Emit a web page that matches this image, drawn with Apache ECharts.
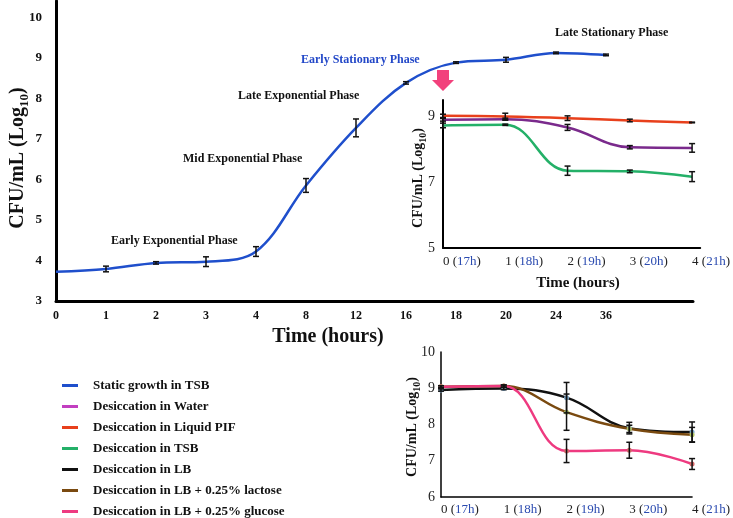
<!DOCTYPE html>
<html>
<head>
<meta charset="utf-8">
<script src="https://cdn.jsdelivr.net/npm/echarts@6/dist/echarts.min.js"></script>
<style>
  html, body { margin: 0; padding: 0; background: #fff; }
  #chart { width: 733px; height: 518px; }
</style>
</head>
<body>
<div id="chart"></div>
<script>
// growth curve (main plot)
const mainHours = ['0', '1', '2', '3', '4', '8', '12', '16', '18', '20', '24', '36'];
const tsbGrowth = [3.72, 3.79, 3.94, 3.97, 4.22, 5.85, 7.27, 8.38, 8.88, 8.95, 9.12, 9.07];
const tsbGrowthErr = [0, 0.07, 0.03, 0.12, 0.12, 0.17, 0.22, 0.03, 0.02, 0.06, 0.02, 0.02];

// desiccation time points
const desHours = [0, 1, 2, 3, 4];
const clockHours = ['17h', '18h', '19h', '20h', '21h'];

// inset 1
const waterVals = [8.88, 8.90, 8.65, 8.05, 8.03];
const waterErr = [0.04, 0.03, 0.09, 0.05, 0.13];
const pifVals = [9.0, 8.98, 8.93, 8.86, 8.80];
const pifErr = [0.05, 0.1, 0.07, 0.04, 0.01];
const tsbVals = [8.71, 8.73, 7.34, 7.32, 7.16];
const tsbErr = [0.07, 0.02, 0.14, 0.04, 0.15];

// inset 2
const lbVals = [8.95, 8.99, 8.74, 7.90, 7.79];
const lbErr = [0.03, 0.03, 0.42, 0.16, 0.28];
const lactoseVals = [9.04, 9.06, 8.34, 7.88, 7.72];
const lactoseErr = [0.03, 0.03, 0.5, 0.1, 0.2];
const glucoseVals = [9.04, 9.06, 7.27, 7.29, 6.91];
const glucoseErr = [0.03, 0.03, 0.32, 0.22, 0.15];

const serif = 'Liberation Serif';
const names = [
  'Static growth in TSB',
  'Desiccation in Water',
  'Desiccation in Liquid PIF',
  'Desiccation in TSB',
  'Desiccation in LB',
  'Desiccation in LB + 0.25% lactose',
  'Desiccation in LB + 0.25% glucose'
];

function pairs(vals) {
  return vals.map((v, i) => [i, v]);
}
function errRows(vals, errs) {
  return vals.map((v, i) => [i, v - errs[i], v + errs[i]]).filter(r => r[2] > r[1]);
}

function errorItem(params, api) {
  const x = api.value(0);
  const lo = api.coord([x, api.value(1)]);
  const hi = api.coord([x, api.value(2)]);
  const w = 3;
  const st = { stroke: '#111', lineWidth: 1.5 };
  return {
    type: 'group',
    children: [
      { type: 'line', shape: { x1: lo[0], y1: lo[1], x2: hi[0], y2: hi[1] }, style: st },
      { type: 'line', shape: { x1: lo[0] - w, y1: lo[1], x2: lo[0] + w, y2: lo[1] }, style: st },
      { type: 'line', shape: { x1: hi[0] - w, y1: hi[1], x2: hi[0] + w, y2: hi[1] }, style: st }
    ]
  };
}

function lineSeries(name, vals, color, axis, extra) {
  return Object.assign({
    name: name,
    type: 'line',
    xAxisIndex: axis,
    yAxisIndex: axis,
    data: pairs(vals),
    smooth: 0.4,
    showSymbol: false,
    symbol: 'none',
    lineStyle: { color: color, width: 2.5 },
    itemStyle: { color: color },
    z: 3
  }, extra || {});
}

function errSeries(rows, axis) {
  return {
    type: 'custom',
    xAxisIndex: axis,
    yAxisIndex: axis,
    renderItem: errorItem,
    encode: { x: 0, y: [1, 2] },
    data: rows,
    z: 5
  };
}

const insetLabel = {
  fontFamily: serif, fontSize: 13, color: '#222', align: 'left',
  formatter: v => (Number.isInteger(v) && v <= 4) ? '{n|' + v + ' (}{h|' + clockHours[v] + '}{n|)}' : '',
  rich: {
    n: { fontFamily: serif, fontSize: 13, color: '#222' },
    h: { fontFamily: serif, fontSize: 13, color: '#2b4bb0' }
  }
};

function yName(text, x, y, size, sub) {
  return {
    type: 'text',
    x: x, y: y,
    rotation: Math.PI / 2,
    style: {
      text: '{a|' + text + '}{b|10}{a|)}',
      align: 'center',
      verticalAlign: 'middle',
      rich: {
        a: { fontFamily: serif, fontWeight: 'bold', fontSize: size, lineHeight: size + 6, fill: '#111' },
        b: { fontFamily: serif, fontWeight: 'bold', fontSize: sub, lineHeight: sub, verticalAlign: 'bottom', fill: '#111' }
      }
    }
  };
}

function note(text, x, y, color) {
  return {
    type: 'text', x: x, y: y,
    style: {
      text: text, fill: color || '#111',
      font: 'bold 12px "Liberation Serif"',
      align: 'left', verticalAlign: 'middle'
    }
  };
}

const chart = echarts.init(document.getElementById('chart'));
chart.setOption({
  animation: false,
  grid: [
    { left: 56, top: 1, width: 637, height: 300 },
    { left: 443, top: 100, width: 262, height: 148 },
    { left: 441, top: 352, width: 267, height: 145 }
  ],
  xAxis: [
    {
      gridIndex: 0, type: 'value', min: 0, max: 12.74, interval: 1,
      axisLine: { lineStyle: { color: '#000', width: 3 } },
      axisTick: { show: false },
      splitLine: { show: false },
      axisLabel: {
        fontFamily: serif, fontWeight: 'bold', fontSize: 12, color: '#111', margin: 9,
        formatter: v => mainHours[v] !== undefined && Number.isInteger(v) ? mainHours[v] : ''
      }
    },
    {
      gridIndex: 1, type: 'value', min: 0, max: 4.13, interval: 1,
      axisLine: { lineStyle: { color: '#000', width: 2 } },
      axisTick: { show: false },
      splitLine: { show: false },
      axisLabel: Object.assign({ margin: 7 }, insetLabel)
    },
    {
      gridIndex: 2, type: 'value', min: 0, max: 4, interval: 1,
      axisLine: { lineStyle: { color: '#000', width: 1.5 } },
      axisTick: { show: false },
      splitLine: { show: false },
      axisLabel: Object.assign({ margin: 6 }, insetLabel)
    }
  ],
  yAxis: [
    {
      gridIndex: 0, type: 'value', min: 3, max: 10.4, interval: 1,
      axisLine: { show: true, lineStyle: { color: '#000', width: 3 } },
      axisTick: { show: false },
      splitLine: { show: false },
      axisLabel: {
        fontFamily: serif, fontWeight: 'bold', fontSize: 13, color: '#111', margin: 14,
        formatter: v => Number.isInteger(v) ? String(v) : ''
      }
    },
    {
      gridIndex: 1, type: 'value', min: 5, max: 9.48, interval: 2,
      axisLine: { show: true, lineStyle: { color: '#000', width: 2 } },
      axisTick: { show: false },
      splitLine: { show: false },
      axisLabel: {
        fontFamily: serif, fontSize: 14, color: '#222', margin: 8,
        formatter: v => Number.isInteger(v) ? String(v) : ''
      }
    },
    {
      gridIndex: 2, type: 'value', min: 6, max: 10, interval: 1,
      axisLine: { show: true, lineStyle: { color: '#000', width: 1.5 } },
      axisTick: { show: false },
      splitLine: { show: false },
      axisLabel: { fontFamily: serif, fontSize: 14, color: '#222', margin: 6 }
    }
  ],
  legend: {
    orient: 'vertical', left: 62, top: 379, padding: 0,
    icon: 'rect', itemWidth: 16, itemHeight: 3, itemGap: 8,
    selectedMode: false,
    textStyle: { fontFamily: serif, fontWeight: 'bold', fontSize: 13, color: '#111', padding: [0, 0, 0, 10] },
    data: [
      { name: names[0] },
      { name: names[1], itemStyle: { color: '#c23ec0' } },
      { name: names[2] },
      { name: names[3] },
      { name: names[4], itemStyle: { color: '#111111' } },
      { name: names[5], itemStyle: { color: '#7a4a10' } },
      { name: names[6], itemStyle: { color: '#ee3a80' } }
    ]
  },
  graphic: [
    yName('CFU/mL (Log', 18, 158, 20, 13),
    yName('CFU/mL (Log', 418, 178, 14, 10),
    yName('CFU/mL (Log', 412, 427, 14, 10),
    {
      type: 'text', x: 328, y: 337,
      style: { text: 'Time (hours)', font: 'bold 20px "Liberation Serif"', fill: '#111', align: 'center', verticalAlign: 'middle' }
    },
    {
      type: 'text', x: 578, y: 283,
      style: { text: 'Time (hours)', font: 'bold 15px "Liberation Serif"', fill: '#111', align: 'center', verticalAlign: 'middle' }
    },
    note('Early Exponential Phase', 111, 241),
    note('Mid Exponential Phase', 183, 159),
    note('Late Exponential Phase', 238, 96),
    note('Early Stationary Phase', 301, 60, '#2348c8'),
    note('Late Stationary Phase', 555, 33),
    {
      type: 'polygon',
      shape: { points: [[437, 70], [449, 70], [449, 80], [454, 80], [443, 91], [432, 80], [437, 80]] },
      style: { fill: '#f2417c' }
    }
  ],
  series: [
    lineSeries(names[0], tsbGrowth, '#1f4fcc', 0, { smooth: 0.35 }),
    errSeries(errRows(tsbGrowth, tsbGrowthErr), 0),
    lineSeries(names[1], waterVals, '#7a2a8c', 1),
    lineSeries(names[3], tsbVals, '#24b068', 1),
    lineSeries(names[2], pifVals, '#e8401c', 1),
    errSeries(errRows(waterVals, waterErr).concat(errRows(pifVals, pifErr), errRows(tsbVals, tsbErr)), 1),
    lineSeries(names[4], lbVals, '#111111', 2, { showSymbol: true, symbol: 'circle', symbolSize: 5, itemStyle: { color: '#7aa6c8' } }),
    lineSeries(names[5], lactoseVals, '#7a4a10', 2, { showSymbol: true, symbol: 'circle', symbolSize: 5, itemStyle: { color: '#b2c468' } }),
    lineSeries(names[6], glucoseVals, '#ee3a80', 2, { showSymbol: true, symbol: 'circle', symbolSize: 5, itemStyle: { color: '#d46a6a' } }),
    errSeries(errRows(lbVals, lbErr).concat(errRows(lactoseVals, lactoseErr), errRows(glucoseVals, glucoseErr)), 2)
  ]
});
</script>
</body>
</html>
